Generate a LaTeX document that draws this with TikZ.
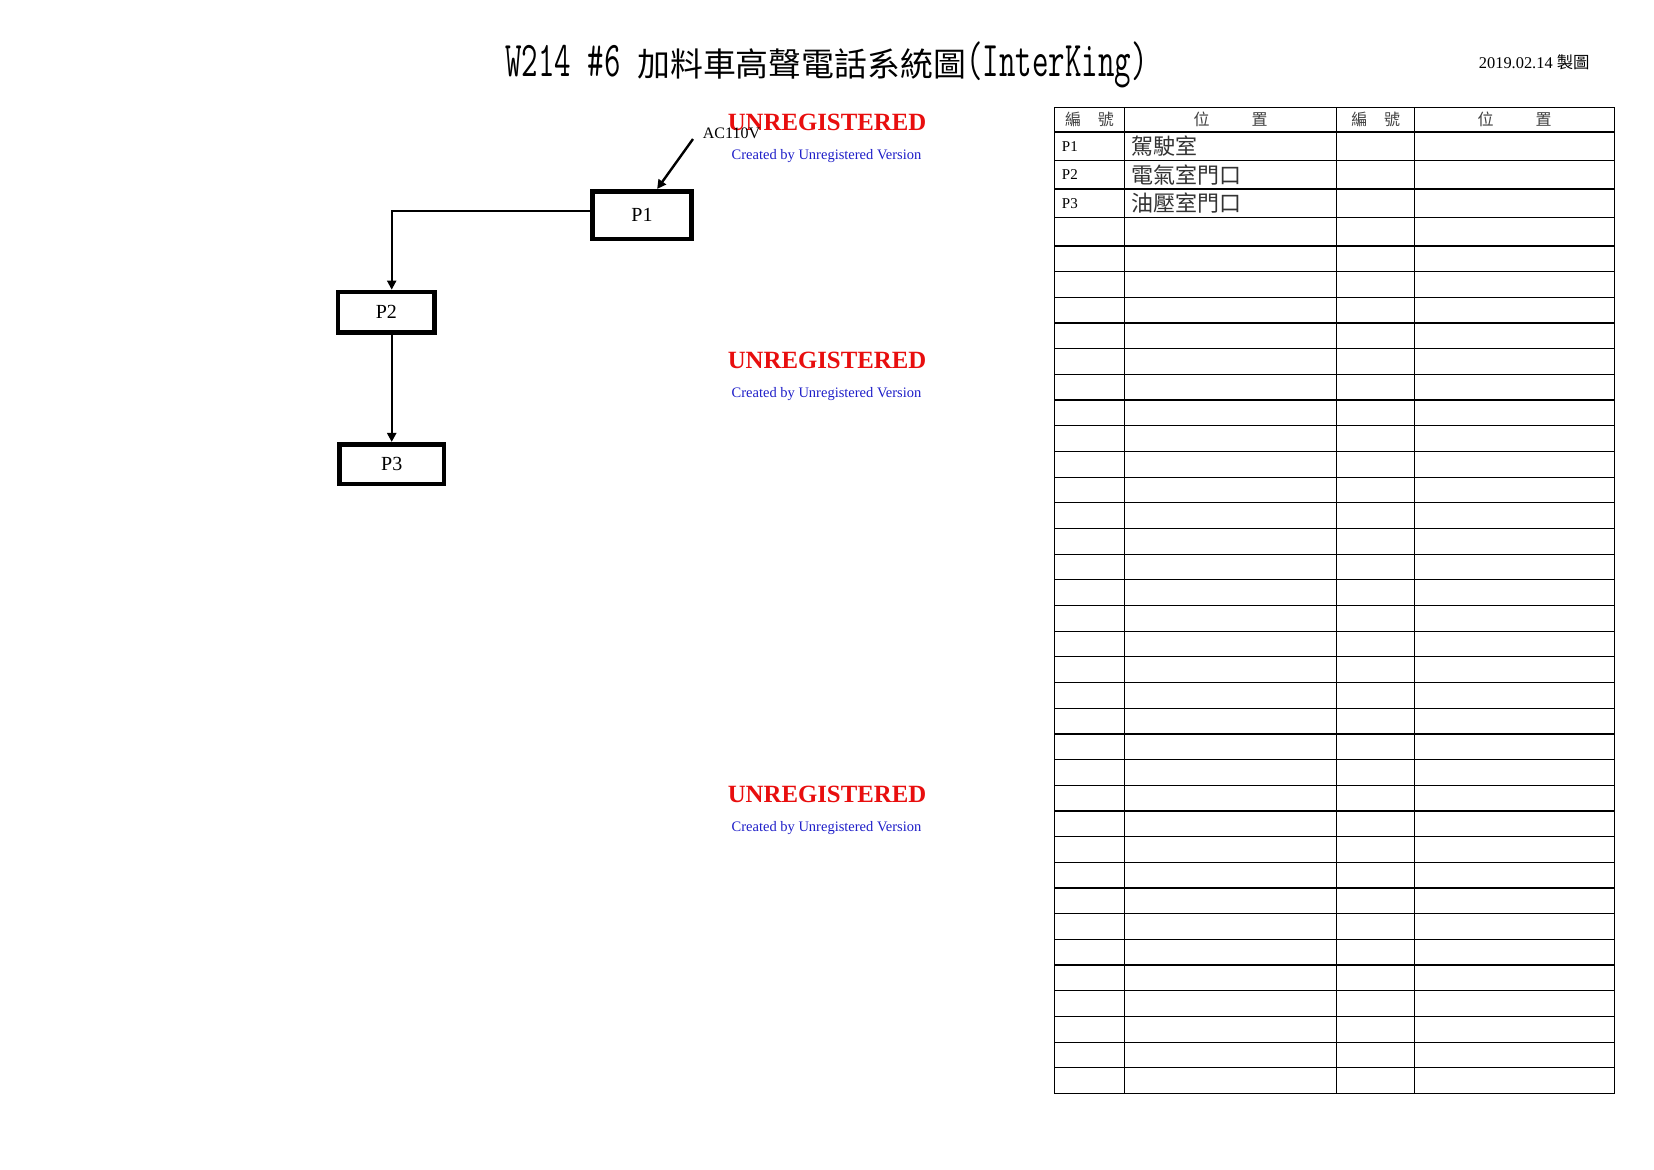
\documentclass[tikz,border=0pt]{standalone}
\usepackage{fontspec}
\setmainfont{Liberation Serif}
\newfontfamily\cjk{Noto Sans CJK TC}
\newfontfamily\titlelatin[FakeStretch=0.64]{Latin Modern Mono}
\usepackage{tikz}
\usetikzlibrary{arrows.meta}
\definecolor{wmred}{RGB}{232,14,14}
\definecolor{wmblue}{RGB}{30,30,200}

\begin{document}
\begin{tikzpicture}[x=0.5pt, y=-0.5pt,
    station/.style={draw, line width=2.4pt, inner sep=0pt, font=\fontsize{10}{12}\selectfont},
    wire/.style={line width=1pt, -{Triangle[width=4.5pt,length=4.5pt]}},
    grid/.style={line width=0.6pt},
    head/.style={font=\cjk\fontsize{8}{9}\selectfont, text=black!75, inner sep=0pt},
    cell/.style={font=\fontsize{7.5}{9}\selectfont, inner sep=0pt},
    place/.style={font=\cjk\fontsize{11}{13}\selectfont, text=black!80, inner sep=0pt},
    watermark/.style={font=\bfseries\fontsize{12.4}{14}\selectfont, text=wmred, inner sep=0pt},
    wmnote/.style={font=\fontsize{7.25}{9}\selectfont, text=wmblue, inner sep=0pt}]
  \useasboundingbox (0,0) rectangle (1654,1169);
  % title and date
  \node[anchor=base, inner sep=0pt] (title) at (826.5,76) {{\titlelatin\fontsize{25}{28}\selectfont W214 \#6 }{\cjk\fontsize{16.45}{20}\selectfont 加料車高聲電話系統圖}{\titlelatin\fontsize{25}{28}\selectfont (InterKing)}};
  \node[anchor=base east, inner sep=0pt, font=\fontsize{8.2}{10}\selectfont] (date) at (1590,68.5) {2019.02.14 {\cjk 製圖}};
  % watermarks
  \foreach \y/\n in {122.4/1, 360.8/2, 794.3/3} {
    \node[watermark] (wm\n) at (827,\y) {UNREGISTERED};
    \node[wmnote, anchor=base] (wmn\n) at (826.5,\y+37) {Created by Unregistered Version};
  }
  % stations
  \node[station, minimum width=49.3pt, minimum height=23.85pt] (P1) at (642,215.2) {P1};
  \node[station, minimum width=48.35pt, minimum height=20.15pt] (P2) at (386.4,312.2) {P2};
  \node[station, minimum width=52.35pt, minimum height=19.85pt] (P3) at (391.7,464.2) {P3};
  \coordinate (ac) at (693,139);
  \node[anchor=base west, inner sep=0pt, font=\fontsize{8}{10}\selectfont] (acv) at (702.5,138.3) {AC110V};
  \draw[wire, line width=1.2pt] (ac) -- (P1.60);
  \draw[wire] ([yshift=2pt]P1.west) -| (P3.north |- P2.north);
  \draw[wire, line width=1.2pt] (P2.south -| P3.north) -- (P3.north);
  % table
  \foreach \x in {1054.3,1124.4,1336.7,1414.6,1614.5}
    \draw[grid] (\x,107.3) -- (\x,1093.4);
  \foreach \y in {107.3,132,160.5,189,217.5,246}
    \draw[grid] (1054.3,\y) -- (1614.5,\y);
  \foreach \k in {1,...,33}
    \draw[grid] (1054.3,246+\k*25.68) -- (1614.5,246+\k*25.68);
  \node[head] (hA) at (1089.4,119.7) {編\hspace{8.35pt}號};
  \node[head] (hB) at (1230.5,119.7) {位\hspace{21pt}置};
  \node[head] (hC) at (1375.7,119.7) {編\hspace{8.35pt}號};
  \node[head] (hD) at (1514.6,119.7) {位\hspace{21pt}置};
  \foreach \n/\y/\where in {1/146.2/駕駛室, 2/174.7/電氣室門口, 3/203.2/油壓室門口} {
    \node[cell, anchor=west] (id\n) at (1061.5,\y) {P\n};
    \node[place, anchor=west] (pos\n) at (1131,\y) {\where};
  }
\end{tikzpicture}
\end{document}
